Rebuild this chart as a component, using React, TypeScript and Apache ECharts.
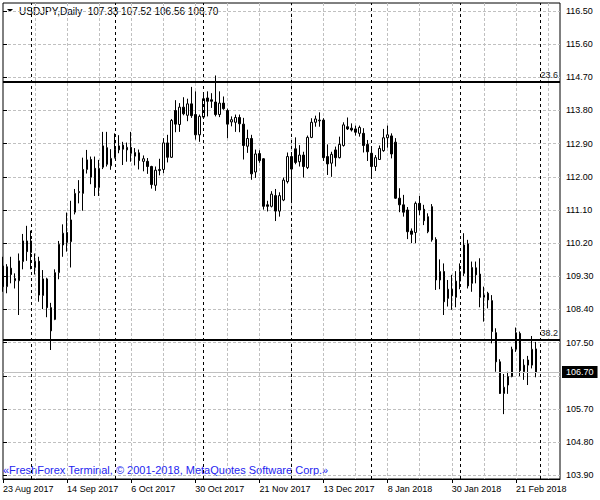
import React, { useEffect, useRef } from "react";
import * as echarts from "echarts";

const FONT = "'Liberation Sans', Arial, sans-serif";

// Daily OHLC, USDJPY, 23 Aug 2017 .. 28 Feb 2018 (134 trading days)
const OPEN = [
  109.58, 109.02, 109.52, 109.18, 109.18, 109.70, 110.26, 109.94, 109.54, 109.71,
  108.78, 109.23, 108.45, 108.13, 109.40, 110.15, 110.49, 110.24, 111.04, 111.57,
  111.55, 112.20, 112.47, 112.23, 111.71, 112.26, 112.79, 112.30, 112.52, 112.73,
  112.86, 112.73, 112.80, 112.56, 112.65, 112.42, 112.42, 112.28, 111.77, 112.17,
  112.20, 112.92, 112.53, 113.80, 113.42, 113.89, 113.67, 113.98, 113.69, 113.14,
  113.62, 114.14, 114.09, 114.03, 113.69, 114.00, 113.80, 113.49, 113.48, 113.61,
  113.43, 112.83, 113.04, 112.13, 112.63, 112.49, 111.24, 111.20, 111.49, 111.07,
  111.37, 111.87, 112.55, 112.76, 112.41, 112.59, 112.25, 113.07, 113.48, 113.52,
  113.54, 112.55, 112.37, 112.73, 112.52, 112.85, 113.36, 113.32, 113.30, 113.18,
  113.18, 112.88, 112.64, 112.28, 112.47, 112.71, 113.06, 113.11, 112.94, 111.42,
  111.24, 111.10, 110.53, 110.49, 111.28, 111.12, 110.51, 111.19, 110.30, 109.20,
  109.43, 108.70, 108.95, 108.73, 109.17, 109.38, 110.18, 109.11, 109.53, 109.36,
  108.73, 108.84, 108.64, 107.77, 106.98, 106.12, 106.35, 106.58, 107.32, 107.75,
  106.71, 107.03, 106.89, 107.33,
];
const HIGH = [
  109.83, 109.63, 109.83, 109.38, 109.92, 110.45, 110.67, 110.54, 109.92, 109.83,
  109.47, 109.26, 108.58, 109.49, 110.26, 110.71, 111.03, 111.35, 111.67, 111.91,
  112.52, 112.73, 112.55, 112.55, 112.46, 113.22, 113.22, 112.75, 113.18, 113.13,
  112.95, 112.93, 113.22, 112.78, 112.74, 112.58, 112.51, 112.30, 112.28, 112.49,
  113.05, 113.14, 113.57, 114.08, 114.00, 114.16, 114.12, 114.44, 114.32, 113.69,
  114.30, 114.32, 114.27, 114.75, 114.32, 114.18, 113.85, 113.64, 113.69, 113.69,
  113.60, 113.28, 113.14, 112.74, 112.72, 112.51, 111.35, 111.61, 111.67, 111.58,
  111.98, 112.66, 112.59, 113.07, 112.86, 112.68, 113.12, 113.59, 113.66, 113.75,
  113.59, 112.88, 112.68, 112.82, 113.09, 113.48, 113.61, 113.45, 113.39, 113.39,
  113.32, 113.00, 112.82, 112.59, 112.85, 113.30, 113.39, 113.18, 113.05, 111.69,
  111.51, 111.18, 110.60, 111.33, 111.48, 111.24, 111.01, 111.26, 110.36, 109.76,
  109.65, 109.20, 109.34, 109.44, 109.65, 110.47, 110.29, 109.70, 109.70, 109.79,
  109.02, 108.88, 108.79, 107.89, 107.05, 106.65, 106.71, 107.39, 107.91, 107.80,
  107.05, 107.14, 107.68, 107.52,
];
const LOW = [
  108.88, 108.84, 109.11, 108.97, 108.25, 109.49, 109.72, 109.49, 109.35, 108.61,
  108.41, 108.19, 107.30, 108.11, 109.22, 109.83, 109.97, 109.54, 110.98, 111.28,
  111.08, 112.09, 111.80, 111.48, 111.48, 112.21, 112.28, 112.19, 112.50, 112.64,
  112.32, 112.41, 112.41, 112.31, 112.20, 112.15, 112.08, 111.68, 111.62, 112.04,
  112.10, 112.39, 112.51, 113.21, 113.22, 113.67, 113.51, 113.60, 113.01, 112.95,
  113.58, 113.64, 113.87, 113.64, 113.62, 113.82, 113.05, 113.37, 113.22, 113.21,
  112.47, 112.65, 111.92, 111.97, 112.38, 111.11, 111.06, 111.17, 110.80, 110.92,
  111.34, 111.82, 111.31, 112.34, 112.28, 111.98, 112.21, 113.05, 113.36, 113.36,
  112.43, 112.05, 112.00, 112.28, 112.50, 112.82, 113.27, 113.23, 113.12, 113.09,
  112.66, 112.43, 111.98, 112.16, 112.46, 112.68, 112.79, 112.50, 111.40, 111.04,
  110.92, 110.31, 110.20, 110.20, 110.96, 110.69, 110.47, 110.24, 108.93, 108.95,
  108.25, 108.48, 108.39, 108.46, 108.95, 109.31, 108.97, 108.88, 109.11, 108.46,
  108.07, 108.43, 107.48, 106.71, 106.11, 105.56, 106.11, 106.56, 107.25, 106.59,
  106.49, 106.35, 106.80, 106.56,
];
const CLOSE = [
  109.02, 109.56, 109.35, 109.24, 109.72, 110.26, 109.97, 110.26, 109.71, 108.79,
  109.23, 108.45, 107.82, 109.40, 110.17, 110.47, 110.22, 110.83, 111.55, 111.60,
  112.20, 112.46, 111.99, 111.71, 112.23, 112.84, 112.34, 112.50, 112.75, 112.84,
  112.75, 112.80, 112.64, 112.66, 112.44, 112.49, 112.28, 111.79, 112.18, 112.20,
  112.92, 112.53, 113.53, 113.43, 113.89, 113.71, 113.98, 113.66, 113.14, 113.64,
  114.12, 114.05, 114.05, 113.69, 114.00, 113.85, 113.43, 113.55, 113.61, 113.44,
  112.85, 113.04, 112.08, 112.62, 112.44, 111.20, 111.20, 111.53, 111.07, 111.49,
  111.91, 112.55, 112.21, 112.39, 112.59, 112.28, 113.07, 113.48, 113.57, 113.54,
  112.52, 112.35, 112.61, 112.52, 112.88, 113.41, 113.30, 113.27, 113.21, 113.34,
  112.85, 112.68, 112.28, 112.52, 112.77, 113.06, 113.14, 112.62, 111.42, 111.24,
  111.04, 110.51, 110.44, 111.28, 111.10, 110.81, 110.92, 110.29, 109.20, 109.43,
  108.61, 108.95, 108.77, 109.17, 109.43, 110.15, 109.04, 109.54, 109.34, 108.73,
  108.79, 108.66, 107.80, 106.98, 106.12, 106.29, 106.58, 107.32, 107.77, 106.74,
  106.89, 106.89, 107.32, 106.70,
];

const MONTH_STARTS = ["1 Sep 2017", "2 Oct 2017", "1 Nov 2017", "1 Dec 2017", "2 Jan 2018", "1 Feb 2018", "1 Mar 2018"];
const FIB_LEVELS = [
  { name: "23.6", price: 114.59 },
  { name: "38.2", price: 107.58 },
];
const LAST_PRICE = 106.7;
const Y_TICK_MIN = 103.9;
const Y_TICK_MAX = 116.5;
const Y_TICK_STEP = 0.9;
const HEADER = "USDJPY,Daily  107.33 107.52 106.56 106.70";
const COPYRIGHT = "\u00abFreshForex Terminal, \u00a9 2001-2018, MetaQuotes Software Corp.\u00bb";

const MONTHS = ["Jan", "Feb", "Mar", "Apr", "May", "Jun", "Jul", "Aug", "Sep", "Oct", "Nov", "Dec"];
const HOLIDAYS = ["2017-12-25", "2018-01-01"];

function tradingDays(count: number): string[] {
  const out: string[] = [];
  const d = new Date(Date.UTC(2017, 7, 23));
  while (out.length < count) {
    const wd = d.getUTCDay();
    const key = d.toISOString().slice(0, 10);
    if (wd !== 0 && wd !== 6 && HOLIDAYS.indexOf(key) < 0) {
      out.push(`${d.getUTCDate()} ${MONTHS[d.getUTCMonth()]} ${d.getUTCFullYear()}`);
    }
    d.setUTCDate(d.getUTCDate() + 1);
  }
  return out;
}

const DATES = tradingDays(140);

export default function App() {
  const ref = useRef<HTMLDivElement>(null);
  useEffect(() => {
    if (!ref.current) return;
    const chart = echarts.init(ref.current, undefined, { renderer: "svg" });
    // pixel scale shared by both grids: 116.5 at y=11, 103.9 at y=475.3
    const pxPerUnit = 464.3 / (Y_TICK_MAX - Y_TICK_MIN);
    const yMax = Y_TICK_MAX + 8 / pxPerUnit;
    const yMin = Y_TICK_MIN - 3.7 / pxPerUnit;

    const markData: any[] = [];
    MONTH_STARTS.forEach((m) =>
      markData.push({
        xAxis: m,
        lineStyle: { color: "#000", type: [3, 3], width: 1 },
        label: { show: false },
      })
    );
    FIB_LEVELS.forEach((f) =>
      markData.push({
        yAxis: f.price,
        lineStyle: { color: "#000", type: "solid", width: 2 },
        label: {
          show: true,
          position: "insideEndTop",
          formatter: f.name,
          color: "#1a1a1a",
          fontSize: 9,
          fontFamily: FONT,
          distance: [2, 2],
        },
      })
    );
    markData.push({
      yAxis: LAST_PRICE,
      lineStyle: { color: "#c0c0c0", type: "solid", width: 1 },
      label: {
        show: true,
        position: "end",
        formatter: LAST_PRICE.toFixed(2),
        color: "#fff",
        backgroundColor: "#000",
        padding: [2, 4, 1, 4],
        distance: 2,
        fontSize: 9,
        fontFamily: FONT,
      },
    });

    chart.setOption({
      animation: false,
      backgroundColor: "#fff",
      grid: [
        { left: 3, right: 40, top: 3, bottom: 21, show: true, borderColor: "#000", borderWidth: 1, backgroundColor: "transparent" },
        { left: 3, right: 40, top: 11, bottom: 24.7 },
      ],
      xAxis: [
        {
          type: "category",
          gridIndex: 0,
          data: DATES,
          boundaryGap: false,
          axisLine: { show: true, lineStyle: { color: "#000", width: 1 } },
          axisTick: {
            show: true,
            length: 4,
            interval: (i: number) => i % 16 === 0 && i <= 128,
            lineStyle: { color: "#000" },
          },
          axisLabel: {
            show: true,
            interval: (i: number) => i % 16 === 0 && i <= 128,
            align: "left",
            margin: 5,
            fontSize: 9,
            fontFamily: FONT,
            color: "#000",
          },
          splitLine: {
            show: true,
            interval: (i: number) => i % 8 === 0 && i > 0,
            lineStyle: { color: "#c0c0c0", type: [3, 2], width: 1 },
          },
        },
        { type: "value", gridIndex: 1, min: 0, max: 1, show: false },
      ],
      yAxis: [
        { type: "value", gridIndex: 0, min: yMin, max: yMax, show: false },
        {
          type: "value",
          gridIndex: 1,
          position: "right",
          min: Y_TICK_MIN,
          max: Y_TICK_MAX,
          interval: Y_TICK_STEP,
          axisLine: { show: false },
          axisTick: { show: true, length: 4, lineStyle: { color: "#000" } },
          axisLabel: {
            margin: 6,
            fontSize: 9,
            fontFamily: FONT,
            color: "#000",
            formatter: (v: number) => (Math.abs(v - 106.6) < 0.01 ? "" : v.toFixed(2)),
          },
          splitLine: { show: true, lineStyle: { color: "#c0c0c0", type: [3, 2], width: 1 } },
        },
      ],
      series: [
        {
          type: "candlestick",
          xAxisIndex: 0,
          yAxisIndex: 0,
          data: OPEN.map((o, i) => [o, CLOSE[i], LOW[i], HIGH[i]]),
          barWidth: 2,
          itemStyle: {
            color: "#fff",
            color0: "#000",
            borderColor: "#000",
            borderColor0: "#000",
            borderColorDoji: "#000",
            borderWidth: 1,
          },
          markLine: { symbol: "none", silent: true, animation: false, data: markData },
        },
      ],
      graphic: [
        { type: "polygon", shape: { points: [[7, 9], [13, 9], [10, 12]] }, style: { fill: "#000" } },
        {
          type: "text",
          x: 19,
          y: 11,
          style: { text: HEADER, fill: "#000", font: `10px ${FONT}`, verticalAlign: "middle" },
        },
        {
          type: "text",
          x: 3,
          y: 470,
          style: { text: COPYRIGHT, fill: "#2424f0", font: `11px ${FONT}`, verticalAlign: "middle" },
        },
      ],
    });
    return () => chart.dispose();
  }, []);
  return <div ref={ref} style={{ position: "fixed", left: 0, top: 0, width: 600, height: 500 }} />;
}
